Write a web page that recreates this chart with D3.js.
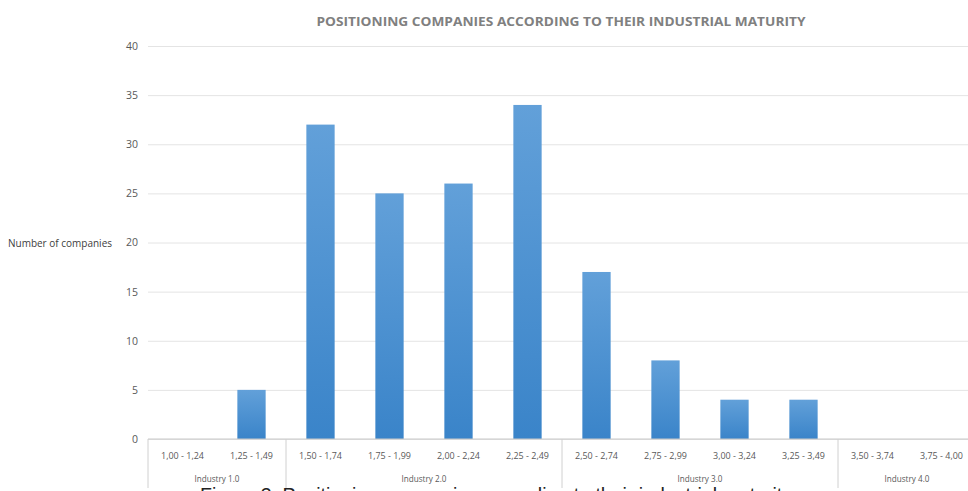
<!DOCTYPE html>
<html>
<head>
<meta charset="utf-8">
<script src="https://cdn.jsdelivr.net/npm/d3@7"></script>
<style>
  html, body { margin: 0; padding: 0; background: #fff; overflow: hidden; }
  svg { display: block; font-family: "Open Sans", "Noto Sans", sans-serif; }
</style>
</head>
<body>
<div id="chart"></div>
<script>
const categories = ["1,00 - 1,24", "1,25 - 1,49", "1,50 - 1,74", "1,75 - 1,99", "2,00 - 2,24", "2,25 - 2,49",
  "2,50 - 2,74", "2,75 - 2,99", "3,00 - 3,24", "3,25 - 3,49", "3,50 - 3,74", "3,75 - 4,00"];
const companies = [0, 5, 32, 25, 26, 34, 17, 8, 4, 4, 0, 0];
const groups = ["Industry 1.0", "Industry 2.0", "Industry 3.0", "Industry 4.0"];
const groupSizes = [2, 4, 4, 2];
const yTicks = [0, 5, 10, 15, 20, 25, 30, 35, 40];

const width = 968, height = 491;
const mLeft = 148, mRight = 976, mTop = 46, mBottom = 439;

const svg = d3.select("#chart").append("svg")
  .attr("width", width).attr("height", height);

const grad = svg.append("defs").append("linearGradient")
  .attr("id", "bar").attr("x1", 0).attr("y1", 0).attr("x2", 0).attr("y2", 1);
grad.append("stop").attr("offset", "0%").attr("stop-color", "#62a0d9");
grad.append("stop").attr("offset", "100%").attr("stop-color", "#3a84c9");

const x = d3.scaleBand().domain(categories).range([mLeft, mRight]).paddingInner(0.59).paddingOuter(0.295);
const xc = d3.scaleBand().domain(categories).range([mLeft, mRight]);
const y = d3.scaleLinear().domain([0, 40]).range([mBottom, mTop]);

// titre
svg.append("text")
  .attr("x", 561).attr("y", 26)
  .attr("text-anchor", "middle")
  .attr("font-size", 11.5).attr("font-weight", "bold")
  .attr("fill", "#808080")
  .attr("textLength", 489).attr("lengthAdjust", "spacingAndGlyphs")
  .text("POSITIONING COMPANIES ACCORDING TO THEIR INDUSTRIAL MATURITY");

// grille + axe y
const yAxis = svg.append("g")
  .attr("transform", `translate(${mLeft},0)`)
  .call(d3.axisLeft(y).tickValues(yTicks).tickSize(-(mRight - mLeft)).tickPadding(10));
yAxis.select(".domain").remove();
yAxis.selectAll(".tick line").attr("stroke", "#e4e4e4");
yAxis.selectAll(".tick text").attr("fill", "#595959").attr("font-size", 10.5)
  .attr("font-family", "'Open Sans', sans-serif");

svg.append("text")
  .attr("x", 8).attr("y", y(20) + 4)
  .attr("font-size", 10).attr("fill", "#404040")
  .attr("textLength", 104).attr("lengthAdjust", "spacingAndGlyphs")
  .text("Number of companies");

// barres
svg.append("g").selectAll("rect").data(companies).join("rect")
  .attr("x", (d, i) => x(categories[i]))
  .attr("width", x.bandwidth())
  .attr("y", d => y(d))
  .attr("height", d => y(0) - y(d))
  .attr("fill", "url(#bar)");

// axe x
svg.append("line")
  .attr("x1", mLeft).attr("x2", mRight).attr("y1", mBottom).attr("y2", mBottom)
  .attr("stroke", "#c8c8c8");

svg.append("g").selectAll("text").data(categories).join("text")
  .attr("x", d => xc(d) + xc.bandwidth() / 2)
  .attr("y", 459)
  .attr("text-anchor", "middle")
  .attr("font-size", 9).attr("fill", "#595959")
  .attr("textLength", 43).attr("lengthAdjust", "spacingAndGlyphs")
  .text(d => d);

// groupes
let acc = 0;
const bounds = [0];
groupSizes.forEach(n => { acc += n; bounds.push(acc); });

svg.append("g").selectAll("line").data(bounds.slice(0, -1)).join("line")
  .attr("x1", i => mLeft + i * xc.step()).attr("x2", i => mLeft + i * xc.step())
  .attr("y1", mBottom).attr("y2", 488)
  .attr("stroke", "#d0d0d0");

svg.append("g").selectAll("text").data(groups).join("text")
  .attr("x", (d, i) => mLeft + (bounds[i] + bounds[i + 1]) / 2 * xc.step())
  .attr("y", 482)
  .attr("text-anchor", "middle")
  .attr("font-size", 9.5).attr("fill", "#595959")
  .attr("textLength", 45).attr("lengthAdjust", "spacingAndGlyphs")
  .text(d => d);

// légende de figure coupée en bas
svg.append("text")
  .attr("x", 200).attr("y", 502)
  .attr("font-family", "Liberation Sans, Arial, sans-serif")
  .attr("font-size", 20).attr("fill", "#222")
  .attr("textLength", 592).attr("lengthAdjust", "spacingAndGlyphs")
  .text("Figure 3: Positioning companies according to their industrial maturity");
</script>
</body>
</html>
